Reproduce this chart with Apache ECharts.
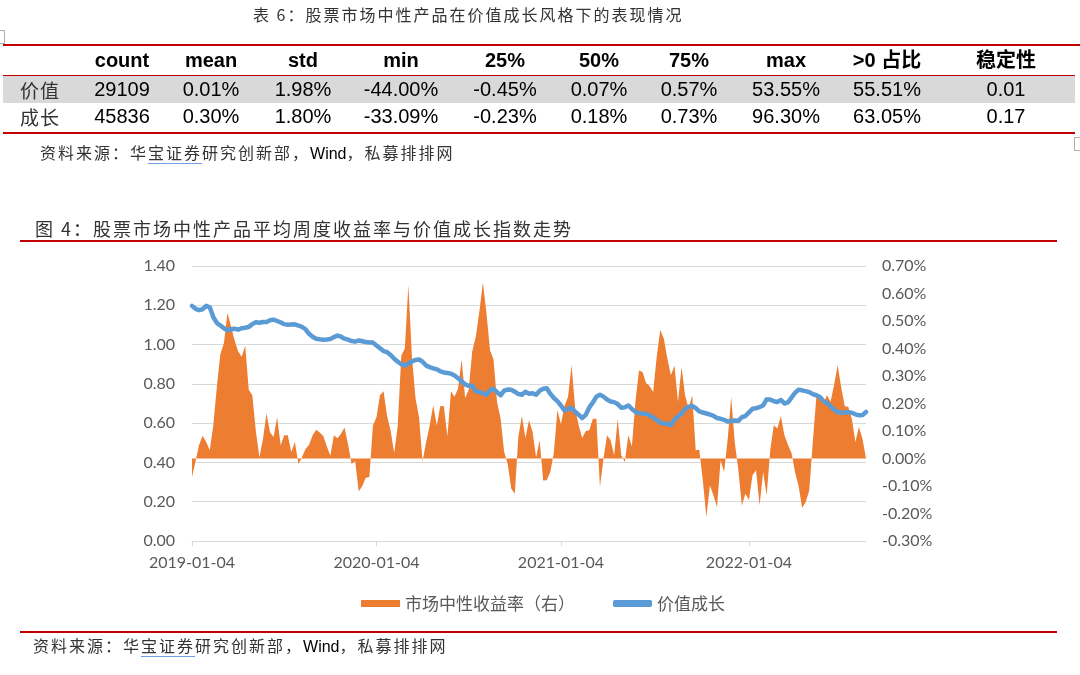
<!DOCTYPE html>
<html>
<head>
<meta charset="utf-8">
<script src="https://cdn.jsdelivr.net/npm/echarts@6/dist/echarts.min.js"></script>
<style>
  body { margin: 0; background: #fff; }
  #page { position: relative; width: 1080px; height: 675px; overflow: hidden; background: #fff; }
  #chart { position: absolute; left: 0; top: 0; width: 1080px; height: 675px; }
  .cjk { font-family: "Noto Sans CJK SC", sans-serif; color: #333; letter-spacing: 2px; }
  .lat { font-family: "Liberation Sans", Arial, sans-serif; letter-spacing: 0; color: #000; }
  .abs { position: absolute; white-space: nowrap; }
  .red { position: absolute; background: #c00000; }
  .cell { position: absolute; text-align: center; white-space: nowrap; }
  .wavy { text-decoration: underline; text-decoration-color: #6f9fe6; text-underline-offset: 4px; }
  .mark { position: absolute; border: 1px solid #b0b0b0; }
</style>
</head>
<body>
<div id="page">
  <div id="chart"></div>

  <!-- ============ 表 6 ============ -->
  <div class="abs cjk" style="left:253px;top:3px;font-size:16px;line-height:22px;">表 6：股票市场中性产品在价值成长风格下的表现情况</div>
  <div class="mark" style="left:-2px;top:30px;width:5px;height:12px;"></div>
  <div class="mark" style="left:1074px;top:137px;width:8px;height:12px;"></div>
  <div class="red" style="left:3px;top:44px;width:1077px;height:2px;"></div>
  <div class="red" style="left:3px;top:75px;width:1072px;height:1px;"></div>
  <div style="position:absolute;left:3px;top:76px;width:1072px;height:27px;background:#d9d9d9;"></div>
  <div class="red" style="left:3px;top:132px;width:1072px;height:2px;"></div>
  <div id="table"></div>
  <div class="abs cjk" style="left:40px;top:141px;font-size:16px;line-height:22px;">资料来源：华<span class="wavy">宝证券</span>研究创新部，<span class="lat">Wind</span>，私募排排网</div>

  <!-- ============ 图 4 ============ -->
  <div class="abs cjk" style="left:35px;top:216px;font-size:18px;line-height:24px;">图 4：股票市场中性产品平均周度收益率与价值成长指数走势</div>
  <div class="red" style="left:20px;top:240px;width:1037px;height:2px;"></div>
  <div class="red" style="left:20px;top:631px;width:1037px;height:2px;"></div>
  <div class="abs cjk" style="left:33px;top:634px;font-size:16px;line-height:22px;">资料来源：华<span class="wavy">宝证券</span>研究创新部，<span class="lat">Wind</span>，私募排排网</div>
</div>

<script>
/* =================表格数据=================== */
const tableHeads = ["", "count", "mean", "std", "min", "25%", "50%", "75%", "max", ">0 占比", "稳定性"];
const tableRows = ["价值", "成长"];
const valueRow = ["29109", "0.01%", "1.98%", "-44.00%", "-0.45%", "0.07%", "0.57%", "53.55%", "55.51%", "0.01"];
const growthRow = ["45836", "0.30%", "1.80%", "-33.09%", "-0.23%", "0.18%", "0.73%", "96.30%", "63.05%", "0.17"];

/* =================曲线图数据=================== */
const xTickLabels = ["2019-01-04", "2020-01-04", "2021-01-04", "2022-01-04"];
const xTickIndex = [0, 52, 104, 157];

// 市场中性收益率（右）, 单位 %
const neutralReturn = [
  -0.067, -0.01, 0.05, 0.083, 0.06, 0.03, 0.12, 0.26, 0.38, 0.42,
  0.53, 0.48, 0.43, 0.39, 0.37, 0.41, 0.25, 0.23, 0.10, 0.005,
  0.07, 0.165, 0.095, 0.078, 0.15, 0.048, 0.085, 0.085, 0.024, 0.06,
  -0.02, 0.005, 0.035, 0.05, 0.085, 0.105, 0.095, 0.082, 0.045, 0.01,
  0.085, 0.074, 0.09, 0.113, 0.05, -0.02, -0.01, -0.12, -0.10, -0.07,
  -0.067, 0.12, 0.15, 0.23, 0.245, 0.155, 0.10, 0.02, 0.12, 0.375,
  0.40, 0.63, 0.37, 0.22, 0.15, -0.01, 0.06, 0.12, 0.194, 0.12,
  0.191, 0.19, 0.08, 0.245, 0.225, 0.255, 0.36, 0.22, 0.25, 0.39,
  0.443, 0.534, 0.64, 0.53, 0.395, 0.36, 0.205, 0.145, 0.024, -0.02,
  -0.11, -0.128, 0.08, 0.155, 0.075, 0.139, 0.097, 0.005, 0.066, -0.08,
  -0.079, -0.049, 0.02, 0.176, 0.125, 0.19, 0.225, 0.34, 0.185, 0.121,
  0.075, 0.10, 0.103, 0.145, 0.145, -0.104, 0.0, 0.085, 0.066, 0.012,
  0.145, 0.012, -0.013, 0.085, 0.045, 0.206, 0.32, 0.315, 0.275, 0.264,
  0.242, 0.37, 0.467, 0.436, 0.364, 0.303, 0.337, 0.206, 0.333, 0.23,
  0.181, 0.23, 0.03, 0.033, -0.08, -0.213, -0.098, -0.134, -0.177, -0.007,
  -0.049, 0.07, 0.224, 0.06, -0.04, -0.171, -0.128, -0.152, -0.061, -0.043,
  -0.171, -0.049, -0.134, 0.03, 0.121, 0.109, 0.155, 0.085, 0.05, 0.02,
  -0.05, -0.10, -0.18, -0.158, -0.116, 0.06, 0.224, 0.218, 0.20, 0.23,
  0.206, 0.267, 0.34, 0.26, 0.19, 0.188, 0.145, 0.06, 0.115, 0.072,
  0.0
];

// 价值成长
const valueGrowth = [
  1.197, 1.182, 1.175, 1.18, 1.197, 1.19, 1.14, 1.11, 1.097, 1.083,
  1.073, 1.078, 1.081, 1.076, 1.083, 1.086, 1.09, 1.104, 1.114, 1.111,
  1.115, 1.115, 1.124, 1.127, 1.12, 1.113, 1.104, 1.101, 1.102, 1.103,
  1.097, 1.09, 1.078, 1.055, 1.04, 1.03, 1.027, 1.025, 1.026, 1.028,
  1.038, 1.046, 1.04, 1.03, 1.025, 1.018, 1.015, 1.021, 1.017, 1.013,
  1.011, 1.01, 0.995, 0.981, 0.967, 0.961, 0.947, 0.928, 0.913, 0.9,
  0.894, 0.903, 0.914, 0.922, 0.924, 0.913, 0.893, 0.885, 0.879, 0.874,
  0.864, 0.858, 0.855, 0.852, 0.843, 0.829, 0.813, 0.797, 0.79, 0.79,
  0.762, 0.759, 0.752, 0.745, 0.767, 0.775, 0.758, 0.742, 0.765, 0.771,
  0.77, 0.76, 0.748, 0.745, 0.76, 0.75, 0.752, 0.745, 0.765, 0.775,
  0.778, 0.75, 0.728, 0.712, 0.69, 0.665, 0.672, 0.677, 0.658, 0.643,
  0.626, 0.642, 0.68, 0.705, 0.735, 0.745, 0.735, 0.72, 0.71, 0.707,
  0.697, 0.678, 0.681, 0.69, 0.672, 0.658, 0.651, 0.648, 0.648, 0.64,
  0.628, 0.616, 0.603, 0.597, 0.597, 0.59, 0.618, 0.635, 0.648, 0.672,
  0.684, 0.687, 0.677, 0.66, 0.654, 0.649, 0.644, 0.637, 0.626, 0.622,
  0.617, 0.608, 0.611, 0.613, 0.612, 0.63, 0.636, 0.655, 0.673, 0.676,
  0.682, 0.69, 0.721, 0.72, 0.711, 0.708, 0.718, 0.7, 0.706, 0.73,
  0.755, 0.77, 0.767, 0.763, 0.758, 0.748, 0.742, 0.733, 0.712, 0.703,
  0.685, 0.67, 0.656, 0.653, 0.655, 0.656, 0.653, 0.645, 0.64, 0.641,
  0.657
];

// 周度日期
const weeks = [];
{
  let t = Date.UTC(2019, 0, 4);
  for (let i = 0; i < neutralReturn.length; ++i) {
    weeks.push(new Date(t).toISOString().slice(0, 10));
    t += 7 * 24 * 3600 * 1000;
  }
}

/* =================表格=================== */
{
  const colW = [74, 90, 88, 96, 100, 108, 80, 100, 94, 108, 130];
  const box = document.getElementById("table");
  const rows = [
    { cells: tableHeads, top: 46, h: 29, head: true },
    { cells: [tableRows[0]].concat(valueRow), top: 76, h: 27 },
    { cells: [tableRows[1]].concat(growthRow), top: 103, h: 27 }
  ];
  rows.forEach((r) => {
    let x = 3;
    r.cells.forEach((txt, i) => {
      const d = document.createElement("div");
      d.className = "cell";
      d.style.left = x + "px";
      d.style.top = r.top + "px";
      d.style.width = colW[i] + "px";
      d.style.height = r.h + "px";
      d.style.lineHeight = r.h + "px";
      if (i === 0) {
        d.className += " cjk";
        d.style.fontSize = "19px";
        d.style.letterSpacing = "1px";
      } else if (r.head) {
        d.style.fontFamily = "'Liberation Sans', 'Noto Sans CJK SC', sans-serif";
        d.style.fontWeight = "bold";
        d.style.fontSize = "20px";
        d.style.color = "#000";
      } else {
        d.style.fontFamily = "'Liberation Sans', Arial, sans-serif";
        d.style.fontSize = "20px";
        d.style.color = "#000";
      }
      d.textContent = txt;
      box.appendChild(d);
      x += colW[i];
    });
  });
}

/* =================曲线图=================== */
{
  const myChart = echarts.init(document.getElementById("chart"));
  const axisFont = "Lato, 'Noto Sans CJK SC', sans-serif";
  const showTick = (idx) => xTickIndex.indexOf(idx) >= 0;
  const option = {
    animation: false,
    grid: { left: 192, right: 214, top: 266, bottom: 134 },
    legend: {
      left: 356,
      top: 590,
      itemWidth: 39,
      itemHeight: 7,
      itemGap: 38,
      textStyle: { color: "#595959", fontSize: 17, fontFamily: "'Noto Sans CJK SC', sans-serif" },
      data: [
        { name: "市场中性收益率（右）", icon: "rect" },
        { name: "价值成长", icon: "roundRect" }
      ]
    },
    xAxis: {
      type: "category",
      boundaryGap: false,
      data: weeks,
      axisLine: { show: true, lineStyle: { color: "#d9d9d9", width: 1 } },
      axisTick: { show: true, length: 5, interval: showTick, lineStyle: { color: "#d9d9d9" } },
      axisLabel: {
        interval: showTick,
        margin: 14,
        color: "#595959",
        fontSize: 16,
        fontFamily: axisFont,
        formatter: (v, idx) => xTickLabels[xTickIndex.indexOf(idx)] || ""
      },
      splitLine: { show: false }
    },
    yAxis: [
      {
        type: "value",
        min: 0,
        max: 1.4,
        interval: 0.2,
        axisLine: { show: false },
        axisTick: { show: false },
        axisLabel: {
          margin: 17,
          color: "#595959",
          fontSize: 16,
          fontFamily: axisFont,
          formatter: (v) => v.toFixed(2)
        },
        splitLine: { lineStyle: { color: "#d9d9d9", width: 1 } }
      },
      {
        type: "value",
        min: -0.3,
        max: 0.7,
        interval: 0.1,
        axisLine: { show: false },
        axisTick: { show: false },
        axisLabel: {
          margin: 16,
          color: "#595959",
          fontSize: 16,
          fontFamily: axisFont,
          formatter: (v) => (Math.abs(v) < 1e-9 ? 0 : v).toFixed(2) + "%"
        },
        splitLine: { show: false }
      }
    ],
    series: [
      {
        name: "市场中性收益率（右）",
        type: "line",
        yAxisIndex: 1,
        data: neutralReturn,
        symbol: "none",
        showSymbol: false,
        color: "#ED7D31",
        itemStyle: { color: "#ED7D31" },
        lineStyle: { width: 0, color: "#ED7D31" },
        areaStyle: { color: "#ED7D31", opacity: 1, origin: 0 }
      },
      {
        name: "价值成长",
        type: "line",
        yAxisIndex: 0,
        data: valueGrowth,
        symbol: "none",
        showSymbol: false,
        color: "#5B9BD5",
        itemStyle: { color: "#5B9BD5" },
        lineStyle: { width: 4.5, color: "#5B9BD5", cap: "round", join: "round" }
      }
    ]
  };
  myChart.setOption(option, true);
}
</script>
</body>
</html>
